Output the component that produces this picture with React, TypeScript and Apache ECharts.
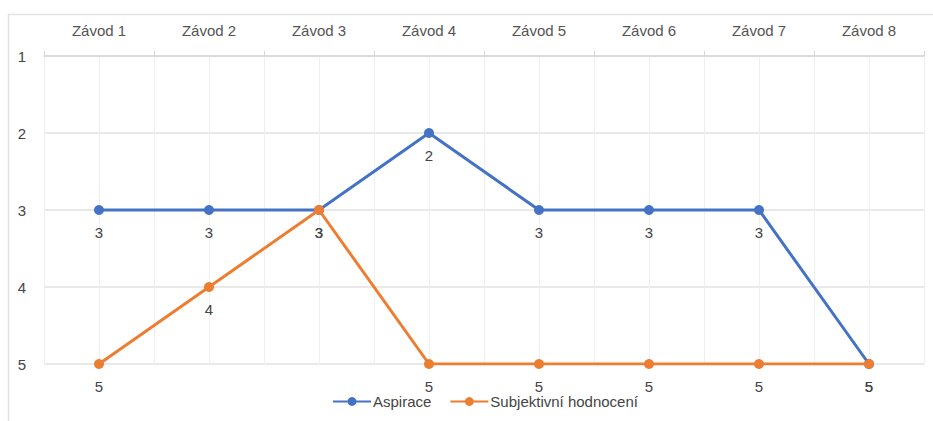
import React, { useEffect, useRef } from "react";
import * as echarts from "echarts";

const categories = ["Závod 1", "Závod 2", "Závod 3", "Závod 4", "Závod 5", "Závod 6", "Závod 7", "Závod 8"];
const aspirace = [3, 3, 3, 2, 3, 3, 3, 5];
const subjektivni = [5, 4, 3, 5, 5, 5, 5, 5];
const yTicks = [1, 2, 3, 4, 5];

const FONT = "'Liberation Sans', Arial, sans-serif";

export default function App() {
  const ref = useRef<HTMLDivElement>(null);
  useEffect(() => {
    if (!ref.current) return;
    const chart = echarts.init(ref.current, undefined, { renderer: "svg" });
    const label = {
      show: true,
      position: "bottom",
      distance: 10,
      color: "#444",
      fontSize: 15,
      fontFamily: FONT,
    };
    chart.setOption({
      animation: false,
      textStyle: { fontFamily: FONT },
      graphic: [
        {
          type: "rect",
          shape: { x: 8.5, y: 14.5, width: 1000, height: 600 },
          style: { fill: "none", stroke: "#e2e2e2", lineWidth: 1.5 },
          z: -10,
        },
      ],
      grid: { left: 44, right: 9, top: 56, bottom: 57 },
      legend: {
        left: 327,
        top: 389,
        itemWidth: 38,
        itemHeight: 11,
        itemGap: 18,
        textStyle: { color: "#444", fontSize: 15, fontFamily: FONT, padding: [0, 0, 0, -3] },
        data: ["Aspirace", "Subjektivní hodnocení"],
      },
      xAxis: [
        {
          type: "category",
          data: categories,
          position: "top",
          boundaryGap: true,
          axisLine: { show: true, lineStyle: { color: "#d6d6d6", width: 1.5 } },
          axisTick: { show: true, length: 5, lineStyle: { color: "#d6d6d6" } },
          axisLabel: { color: "#555", fontSize: 15, margin: 18, fontFamily: FONT },
          splitLine: { show: false },
        },
        {
          type: "value",
          min: 0,
          max: categories.length * 2,
          interval: 1,
          position: "bottom",
          axisLine: { show: false },
          axisTick: { show: false },
          axisLabel: { show: false },
          splitLine: { show: true, lineStyle: { color: "#efefef", width: 1 } },
        },
      ],
      yAxis: {
        type: "value",
        inverse: true,
        min: yTicks[0],
        max: yTicks[yTicks.length - 1],
        interval: 1,
        axisLine: { show: false },
        axisTick: { show: false },
        axisLabel: { color: "#444", fontSize: 15, margin: 18, fontFamily: FONT },
        splitLine: { show: true, lineStyle: { color: "#e2e2e2", width: 1.5 } },
      },
      series: [
        {
          name: "Aspirace",
          type: "line",
          xAxisIndex: 0,
          data: aspirace,
          symbol: "circle",
          symbolSize: 10,
          lineStyle: { color: "#4472c4", width: 3 },
          itemStyle: { color: "#4472c4" },
          label,
          z: 3,
        },
        {
          name: "Subjektivní hodnocení",
          type: "line",
          xAxisIndex: 0,
          data: subjektivni,
          symbol: "circle",
          symbolSize: 10,
          lineStyle: { color: "#ed7d31", width: 3 },
          itemStyle: { color: "#ed7d31" },
          label,
          z: 4,
        },
      ],
    });
    return () => chart.dispose();
  }, []);
  return (
    <div
      ref={ref}
      style={{ position: "absolute", left: 0, top: 0, width: 933, height: 421, background: "#fff" }}
    />
  );
}
